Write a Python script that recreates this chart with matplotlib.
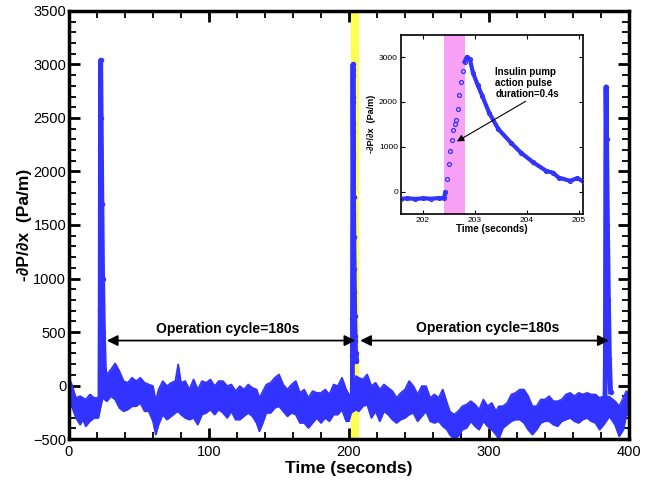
import numpy as np
import matplotlib.pyplot as plt
from matplotlib.ticker import MultipleLocator

plt.rcParams['font.family'] = ['Liberation Sans', 'DejaVu Sans']

BLUE = '#3333ff'

# pressure gradient band (upper / lower envelope), main record
band_t = [0, 2, 5, 8, 10, 12, 15, 18, 21, 24, 27, 30, 33, 36, 39, 42, 45, 48, 51, 54,
          57, 60, 62, 64, 67, 70, 73, 76, 78, 80, 83, 86, 89, 92, 95, 98, 101, 104, 107, 110,
          113, 116, 119, 122, 125, 128, 131, 134, 136, 138, 141, 144, 147, 150, 153, 156, 159, 162, 165, 168,
          171, 174, 177, 180, 183, 186, 189, 192, 195, 198, 200, 201.5,
          205, 207, 210, 213, 216, 219, 222, 225, 228, 231, 234, 237, 240, 243, 246, 249, 252, 255,
          258, 261, 264, 267, 270, 272, 275, 278, 281, 284, 287, 290, 293, 296, 299, 302, 305, 307,
          310, 313, 316, 319, 322, 325, 328, 331, 334, 337, 340, 343, 346, 349, 352, 355, 358, 361,
          364, 367, 370, 373, 376, 379, 382, 386, 390, 393, 396, 398, 400]
band_hi = [72, 9, -116, -100, -116, -131, -84, -116, -116, 119, 103, 150, 206, 134, 41, 25, 72, 41, 72, 25,
           9, -6, -147, -38, 41, -6, 25, 41, 197, 25, 41, -38, 56, -38, 41, 25, 56, -6, 41, 41,
           -6, 9, -53, -6, -38, 9, -22, -38, -116, -69, 9, 25, 72, 103, 9, -38, 9, 41, -69, -38,
           -116, -53, -69, -69, -38, -84, 9, -6, 72, -38, -84, -100,
           88, 72, 56, 103, -6, 25, -38, 9, -22, -53, -116, -69, -38, 41, -6, -84, -6, -6,
           -116, -84, -116, -38, -163, -241, -272, -241, -194, -178, -147, -178, -225, -131, -194, -163, -241, -194,
           -194, -163, -84, -69, -38, -38, -100, -194, -194, -131, -131, -100, -147, -147, -131, -84, -69, -100,
           -69, -84, -69, -84, -84, -116, -100, -105, -147, -194, -116, -53, -69]
band_lo = [-116, -194, -303, -366, -319, -381, -334, -303, -303, -116, -147, -100, -131, -209, -241, -225, -194, -194, -163, -241,
           -241, -334, -459, -366, -272, -319, -288, -256, -241, -272, -303, -319, -303, -366, -272, -256, -225, -272, -225, -256,
           -303, -241, -319, -319, -288, -256, -288, -350, -428, -366, -256, -256, -209, -194, -241, -288, -256, -272, -350, -350,
           -397, -350, -303, -350, -303, -334, -272, -272, -225, -334, -334, -256,
           -225, -241, -194, -178, -303, -241, -334, -241, -272, -319, -350, -319, -303, -272, -256, -334, -288, -241,
           -334, -350, -334, -381, -413, -459, -500, -475, -413, -397, -334, -381, -413, -334, -381, -413, -459, -500,
           -397, -366, -334, -319, -319, -350, -413, -459, -413, -350, -334, -334, -366, -381, -334, -319, -303, -334,
           -350, -319, -303, -334, -350, -413, -366, -290, -366, -475, -413, -288, -241]

# pump pulses at ~22.6 s and ~383.6 s
spike1_t = [21.7, 22.1, 22.3, 22.45, 22.6, 23.0, 23.5, 24.0, 24.6, 25.3, 26.2]
spike1_v = [-150, -120, 700, 2200, 3040, 2500, 1700, 1000, 500, 150, 60]
spike3_t = [382.8, 383.1, 383.3, 383.45, 383.6, 384.0, 384.6, 385.3, 386.0, 386.8]
spike3_v = [-180, 150, 1300, 2300, 2790, 2300, 1500, 800, 250, -60]

# pulse at ~202.8 s (shown enlarged in the inset)
pulse_t = [201.57, 201.7, 201.85, 202.0, 202.15, 202.3, 202.4, 202.43, 202.46, 202.49, 202.52, 202.55,
           202.58, 202.61, 202.64, 202.67, 202.7, 202.73, 202.76, 202.8, 202.84, 202.9, 202.96, 203.05,
           203.14, 203.27, 203.45, 203.69, 203.88, 204.12, 204.37, 204.5, 204.61, 204.83, 204.97, 205.07]
pulse_v = [-160, -150, -165, -150, -160, -145, -150, -20, 280, 620, 900, 1150,
           1380, 1500, 1600, 1850, 2150, 2450, 2700, 2900, 3000, 2950, 2650, 2380,
           2130, 1760, 1390, 1090, 870, 650, 460, 420, 310, 240, 300, 230]
pulse_rise = (202.43, 202.8)
pump_window = (202.4, 202.8)

fig = plt.figure(figsize=(6.64, 4.8), dpi=100)
ax = fig.add_axes([0.1039, 0.0854, 0.8434, 0.8917])

ax.axvspan(201.5, 207.0, color='#ffff4d', zorder=0, lw=0)
ax.fill_between(band_t, band_lo, band_hi, color=BLUE, lw=0, zorder=2)
ax.plot(band_t, band_hi, color=BLUE, lw=1.3, zorder=2)
ax.plot(band_t, band_lo, color=BLUE, lw=1.3, zorder=2)
for st, sv in [(spike1_t, spike1_v), (pulse_t, pulse_v), (spike3_t, spike3_v)]:
    ax.plot(st, sv, color=BLUE, lw=3.5, zorder=3)
    ax.plot(st, sv, 'o', color=BLUE, mfc='none', ms=3, mew=0.9, zorder=3)

ax.set_xlim(0, 400)
ax.set_ylim(-500, 3500)
ax.xaxis.set_major_locator(MultipleLocator(100))
ax.xaxis.set_minor_locator(MultipleLocator(20))
ax.yaxis.set_major_locator(MultipleLocator(500))
ax.yaxis.set_minor_locator(MultipleLocator(100))
ax.tick_params(which='both', direction='in', top=True, right=True, labelsize=10.5)
ax.tick_params(which='major', length=8, width=2)
ax.tick_params(which='minor', length=5, width=1.3)
ax.tick_params(axis='y', pad=2)
ax.tick_params(axis='x', pad=4)
for s in ax.spines.values():
    s.set_linewidth(2.5)
ax.set_xlabel('Time (seconds)', fontsize=12.5, fontweight='bold', labelpad=2)
ax.set_ylabel('-\u2202P/\u2202x  (Pa/m)', fontsize=12.5, fontweight='bold', labelpad=1)

# operation cycle arrows
arrow_kw = dict(arrowstyle='<|-|>', color='black', lw=1.3, mutation_scale=16,
                shrinkA=0, shrinkB=0)
ax.annotate('', xy=(27, 420), xytext=(204.5, 420), arrowprops=arrow_kw, zorder=4)
ax.annotate('', xy=(208, 420), xytext=(385.5, 420), arrowprops=arrow_kw, zorder=4)
ax.text(113.5, 490, 'Operation cycle=180s', ha='center', va='baseline',
        fontsize=10, fontweight='bold')
ax.text(299, 500, 'Operation cycle=180s', ha='center', va='baseline',
        fontsize=10, fontweight='bold')

# inset: single pump pulse
ins = fig.add_axes([0.6035, 0.5542, 0.274, 0.3735])
ins.axvspan(*pump_window, color='#f7a1f7', lw=0, zorder=0)
pt = np.array(pulse_t)
pv = np.array(pulse_v)
flat = pt <= pulse_rise[0]
decay = pt >= pulse_rise[1]
ins.plot(pt[flat], pv[flat], color=BLUE, lw=3, zorder=2)
ins.plot(pt[decay], pv[decay], color=BLUE, lw=3, zorder=2)
ins.plot(pt, pv, 'o', color=BLUE, mfc='none', ms=2.8, mew=0.9, zorder=3)
ins.set_xlim(201.57, 205.07)
ins.set_ylim(-500, 3500)
ins.set_xticks([202, 203, 204, 205])
ins.set_yticks([0, 1000, 2000, 3000])
ins.tick_params(direction='in', top=True, right=True, labelsize=6, length=3, width=0.8, pad=2)
for s in ins.spines.values():
    s.set_linewidth(1.2)
ins.set_xlabel('Time (seconds)', fontsize=7, fontweight='bold', labelpad=0)
ins.set_ylabel('-\u2202P/\u2202x  (Pa/m)', fontsize=6.5, fontweight='bold', labelpad=2)
ins.annotate('Insulin pump\naction pulse\nduration=0.4s', xy=(202.65, 1118),
             xytext=(203.39, 2780), ha='left', va='top', fontsize=7, fontweight='bold',
             linespacing=1.1,
             arrowprops=dict(arrowstyle='-|>', color='black', lw=0.8, mutation_scale=10,
                             shrinkA=0, shrinkB=0, relpos=(0.55, 0.0)))

fig.savefig('out.png', dpi=100)
